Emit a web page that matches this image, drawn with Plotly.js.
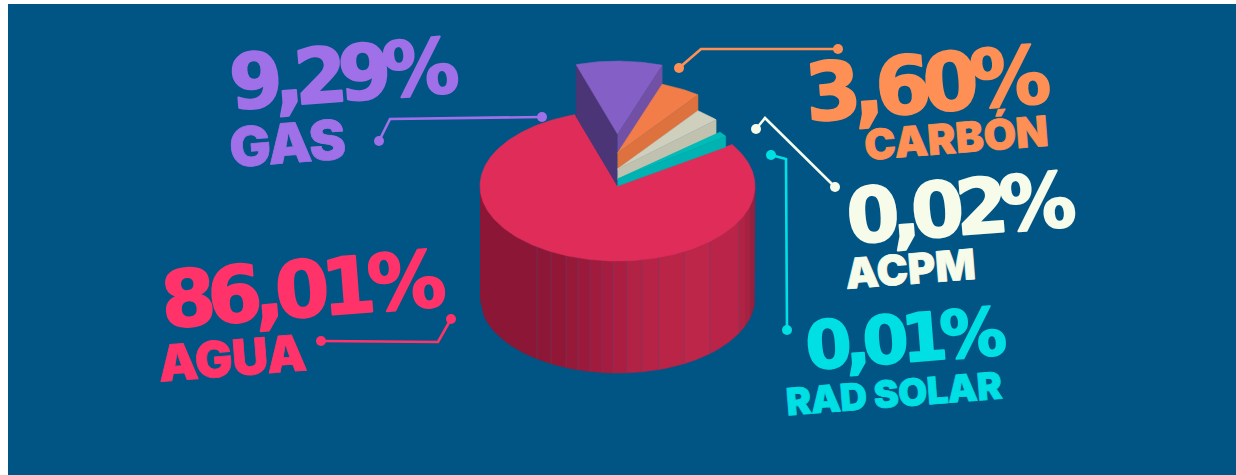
<!DOCTYPE html>
<html>
<head>
<meta charset="utf-8">
<script src="https://cdn.plot.ly/plotly-3.0.1.min.js"></script>
<style>html,body{margin:0;padding:0;background:#fff}#c{width:1236px;height:475px}</style>
</head>
<body>
<div id="c"></div>
<script>
const categories = ['AGUA', 'GAS', 'CARBÓN', 'ACPM', 'RAD SOLAR'];
const values = [86.01, 9.29, 3.60, 0.02, 0.01];
const drawnStart = [56.5, -18, 19.5, 37, 50];
const drawnEnd = [342, 19.5, 37, 47.5, 54];
const drawnLift = [0, 52, 33, 17, 7];

const topColors = ['#e02c59', '#845fc5', '#f27d48', '#cfcfbe', '#00bcb9'];
const sideColors = ['#8c1636', '#7150a5', '#dd723f', '#c0c1ae', '#00b3b2'];
const leftFace = '#4c3576';
const textColors = ['#ff3369', '#a070e8', '#ff9055', '#f7fbe9', '#00dfe3'];

const wallSeams = [480, 537, 551, 566, 578, 590, 602, 613, 627, 642, 659, 684, 710, 739, 745, 750, 755];
const wallColors = ['#8b1635', '#8c1736', '#921737', '#971939', '#9b1a3c', '#a01b3e', '#a51c40', '#ab1e42', '#b22244', '#b62346', '#ba2447', '#bd2549', '#b92448', '#b02345', '#a52243', '#962040'];

const cx = 617.5, cy = 186, rx = 137.5, ry = 75, wallH = 112, wedgeR = 0.972;
const traces = [];
const pt = (deg, r, lift) => {
  const a = deg * Math.PI / 180;
  return [cx + rx * r * Math.sin(a), cy - ry * r * Math.cos(a) - lift];
};
function poly(pts, fill, name) {
  traces.push({
    type: 'scatter', mode: 'lines', fill: 'toself', fillcolor: fill,
    x: pts.map(p => p[0]), y: pts.map(p => p[1]),
    line: {color: fill, width: 0.6}, hoverinfo: name ? 'text' : 'skip', text: name || '', showlegend: false
  });
}
function arc(a0, a1, r, lift) {
  const out = [], n = Math.max(2, Math.ceil(Math.abs(a1 - a0)));
  for (let i = 0; i <= n; i++) out.push(pt(a0 + (a1 - a0) * i / n, r, lift));
  return out;
}
const pctText = v => v.toFixed(2).replace('.', ',') + '%';
const label = i => categories[i] + ' ' + pctText(values[i]);

const wallY = x => cy + ry * Math.sqrt(Math.max(0, 1 - Math.pow((x - cx) / rx, 2)));
wallColors.forEach((c, i) => {
  const x0 = wallSeams[i], x1 = wallSeams[i + 1], up = [], dn = [];
  for (let k = 0; k <= 14; k++) {
    const x = x0 + (x1 - x0) * k / 14;
    up.push([x, wallY(x)]);
    dn.unshift([x, wallY(x) + wallH]);
  }
  poly(up.concat(dn), c);
});
const seamX = [], seamY = [];
wallSeams.slice(1, -3).forEach(x => { seamX.push(x, x, null); seamY.push(wallY(x), wallY(x) + wallH, null); });
traces.push({type: 'scatter', mode: 'lines', x: seamX, y: seamY, line: {color: 'rgba(95,70,110,0.5)', width: 1}, hoverinfo: 'skip', showlegend: false});

poly([[cx, cy]].concat(arc(drawnStart[0], drawnEnd[0], 1, 0)), topColors[0], label(0));

for (let i = 1; i < categories.length; i++) {
  const s = drawnStart[i], e = drawnEnd[i], h = drawnLift[i];
  const nextIdx = i + 1 < categories.length ? i + 1 : 0;
  const nextH = drawnLift[nextIdx];
  const nextR = nextIdx === 0 ? 1 : wedgeR;
  const nextPt = pt(drawnStart[nextIdx], nextR, nextH);
  const outer = pt(e, wedgeR, h);
  const frac = (outer[0] - cx) / (nextPt[0] - cx);
  const cornerY = (cy - nextH) + (nextPt[1] - (cy - nextH)) * frac;
  if (i === 1) poly([[cx, cy - h], pt(s, wedgeR, h), pt(s, wedgeR, 0), [cx, cy]], leftFace);
  poly([[cx, cy - h], outer, [outer[0], cornerY], [cx, cy - nextH]], sideColors[i]);
  poly([[cx, cy - h]].concat(arc(s, e, wedgeR, h)), topColors[i], label(i));
}

const leaders = [
  [[321, 341], [438, 342], [451, 319]],
  [[379, 141], [390, 119], [542, 117]],
  [[679, 68], [701, 49], [838, 49]],
  [[756, 129], [765, 118], [835, 187]],
  [[771, 155], [786, 159], [787, 330]]
];
leaders.forEach((l, i) => {
  traces.push({type: 'scatter', mode: 'lines', x: l.map(p => p[0]), y: l.map(p => p[1]),
    line: {color: textColors[i], width: 2.6}, hoverinfo: 'skip', showlegend: false});
  traces.push({type: 'scatter', mode: 'markers', x: [l[0][0], l[2][0]], y: [l[0][1], l[2][1]],
    marker: {color: textColors[i], size: 10, line: {width: 0}}, hoverinfo: 'skip', showlegend: false});
});

const valueFont = '"DejaVu Sans"';
const nameFont = 'Inter';
const valuePos = [[299, 290, 78, -8], [340, 74, 76, -8.5], [924, 84, 80, -8], [957, 208, 76, -8.5], [902, 339, 66, -7]];
const namePos = [[232, 358, 50, -0.5], [287, 143, 55, -0.8], [956, 137, 42, 0], [910, 268, 42, 0], [894, 393, 37.5, -0.4]];
const tilt = -4.5;
const annotations = [];
const strokes = [], spacing = [];
categories.forEach((c, i) => {
  annotations.push({x: valuePos[i][0], y: valuePos[i][1], xref: 'x', yref: 'y', showarrow: false, textangle: tilt,
    text: pctText(values[i]), xanchor: 'center', yanchor: 'middle',
    font: {family: valueFont, size: valuePos[i][2], color: textColors[i], weight: 900}});
  strokes.push([textColors[i], 2]); spacing.push(valuePos[i][3]);
  annotations.push({x: namePos[i][0], y: namePos[i][1], xref: 'x', yref: 'y', showarrow: false, textangle: tilt,
    text: c, xanchor: 'center', yanchor: 'middle',
    font: {family: nameFont, size: namePos[i][2], color: textColors[i], weight: 900}});
  strokes.push([textColors[i], 0.8]); spacing.push(namePos[i][3]);
});

Plotly.newPlot('c', traces, {
  width: 1236, height: 475,
  margin: {l: 8, r: 0, t: 4, b: 0, pad: 0},
  paper_bgcolor: '#ffffff', plot_bgcolor: '#005585',
  showlegend: false, hovermode: 'closest',
  xaxis: {range: [8, 1236], visible: false, fixedrange: true},
  yaxis: {range: [475, 4], visible: false, fixedrange: true},
  annotations
}, {displayModeBar: false, responsive: false}).then(() => {
  document.querySelectorAll('#c .annotation-text').forEach((t, i) => {
    t.style.letterSpacing = spacing[i] + 'px';
    t.style.stroke = strokes[i][0];
    t.style.strokeWidth = strokes[i][1] + 'px';
    t.style.strokeLinejoin = 'round';
  });
});
</script>
</body>
</html>
